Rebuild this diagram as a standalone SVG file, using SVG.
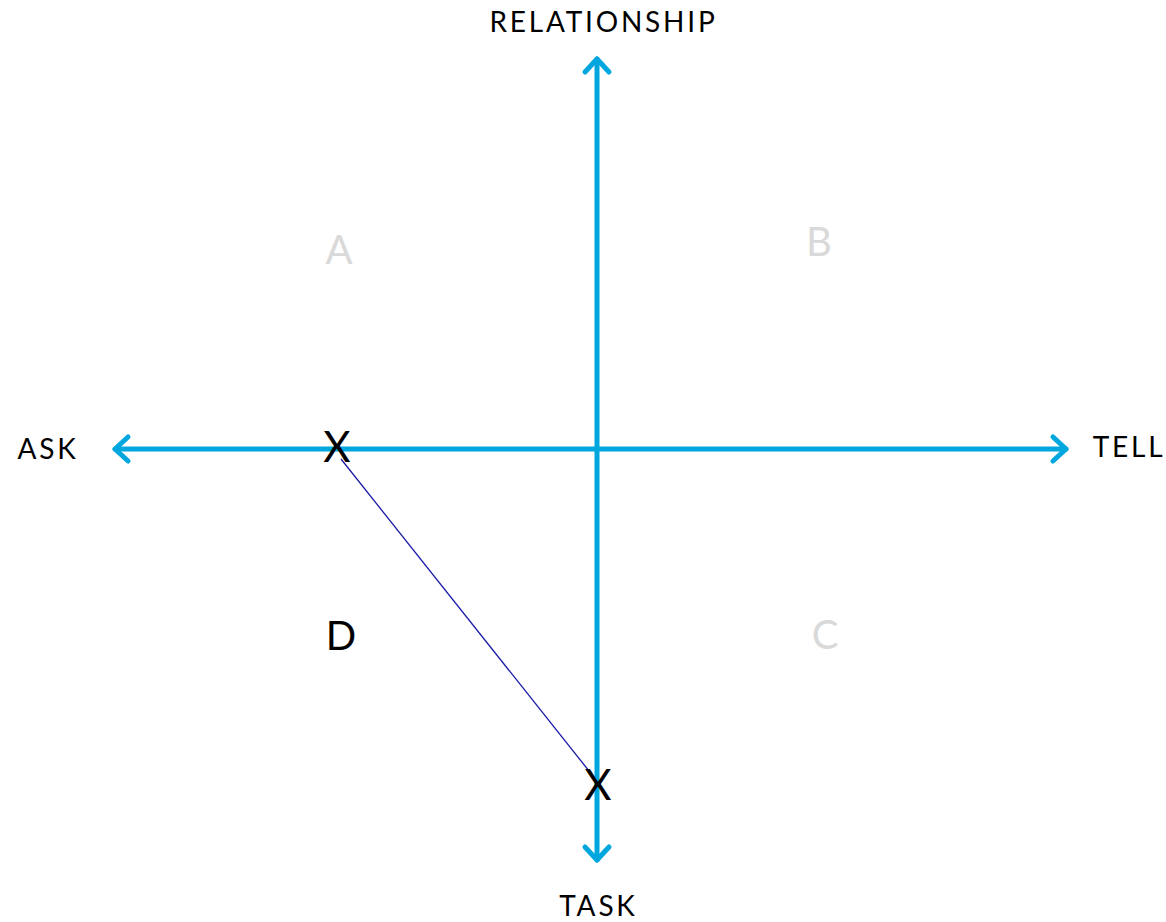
<svg xmlns="http://www.w3.org/2000/svg" width="1166" height="922" viewBox="0 0 1166 922">
<style>
.axis{stroke:#00a6de;stroke-width:5;fill:none;stroke-linecap:round;stroke-linejoin:round}
.lbl{font-family:"Lato","Noto Sans",sans-serif;font-size:28px;letter-spacing:2.8px;fill:#000;text-anchor:middle}
.q{font-family:"Lato","Noto Sans",sans-serif;font-size:40px;fill:#d9d9d9;text-anchor:middle}
.x{font-family:"Lato","Noto Sans",sans-serif;font-size:42px;fill:#000;text-anchor:middle}
</style>
<rect width="1166" height="922" fill="#fff"/>
<g id="connectors">
<line class="axis" x1="597" y1="59" x2="597" y2="860"/>
<polyline class="axis" points="585,72 597,59 609,72"/>
<polyline class="axis" points="585,847 597,860 609,847"/>
<line class="axis" x1="115" y1="449" x2="1066" y2="449"/>
<polyline class="axis" points="128,437 115,449 128,461"/>
<polyline class="axis" points="1053,437 1066,449 1053,461"/>
<line x1="341" y1="459" x2="593" y2="776" stroke="#1a1aa6" stroke-width="1.3"/>
</g>
<g id="label-relationship"><text class="lbl" x="603.5" y="32">RELATIONSHIP</text></g>
<g id="label-ask"><text class="lbl" x="48" y="459">ASK</text></g>
<g id="label-tell"><text class="lbl" x="1129" y="457">TELL</text></g>
<g id="label-task"><text class="lbl" x="598.5" y="916">TASK</text></g>
<g id="quad-a"><text class="q" x="339" y="264">A</text></g>
<g id="quad-b"><text class="q" x="819" y="256">B</text></g>
<g id="quad-c"><text class="q" x="825" y="649">C</text></g>
<g id="quad-d"><text class="q" x="341" y="650" style="fill:#000">D</text></g>
<g id="mark-ask"><text class="x" x="337" y="462">X</text></g>
<g id="mark-task"><text class="x" x="598" y="800">X</text></g>
</svg>
